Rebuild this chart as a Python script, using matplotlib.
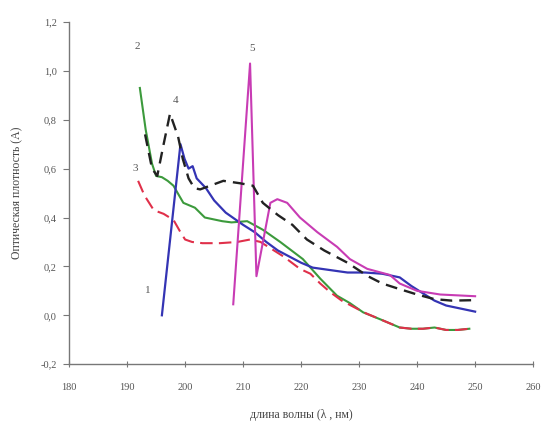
import matplotlib
matplotlib.use("Agg")
import matplotlib.pyplot as plt
from matplotlib.ticker import FuncFormatter

# Spectra: wavelength (nm) and optical density (A)
wl_1 = [196.0, 199.2, 199.9, 200.6, 201.3, 202.0, 202.8, 203.6, 205.0, 207.0, 210.0,
        212.0, 214.0, 216.0, 218.0, 220.0, 222.0, 225.0, 228.0, 231.0, 234.0, 237.0,
        239.0, 241.0, 243.0, 245.0, 247.0, 250.0]
od_1 = [0.00, 0.70, 0.64, 0.60, 0.61, 0.56, 0.54, 0.52, 0.47, 0.42, 0.37,
        0.34, 0.30, 0.265, 0.24, 0.215, 0.195, 0.185, 0.175, 0.175, 0.17, 0.155,
        0.12, 0.09, 0.06, 0.04, 0.03, 0.015]

wl_2 = [192.2, 193.2, 194.3, 195.0, 196.0, 197.0, 198.0, 198.6, 199.7, 201.7, 203.4,
        206.4, 208.0, 210.7, 213.4, 216.4, 220.3, 223.3, 226.2, 228.4, 230.7, 233.6,
        237.0, 239.0, 241.0, 243.0, 245.0, 247.0, 249.0]
od_2 = [0.93, 0.76, 0.62, 0.57, 0.565, 0.55, 0.53, 0.505, 0.46, 0.44, 0.40,
        0.385, 0.38, 0.385, 0.35, 0.30, 0.23, 0.15, 0.08, 0.05, 0.012, -0.016,
        -0.05, -0.055, -0.055, -0.05, -0.06, -0.06, -0.055]

wl_3 = [191.9, 193.0, 194.6, 196.3, 198.0, 199.2, 200.0, 201.2, 203.0, 206.0, 209.0,
        211.2, 213.0, 215.0, 217.0, 219.8, 221.6, 223.3, 225.0, 227.0, 229.0, 231.0,
        233.0, 235.0, 237.0, 239.0, 241.0, 243.0, 245.0, 247.0, 249.0]
od_3 = [0.55, 0.49, 0.43, 0.415, 0.39, 0.34, 0.31, 0.30, 0.295, 0.295, 0.30,
        0.31, 0.30, 0.27, 0.24, 0.19, 0.17, 0.13, 0.095, 0.06, 0.035, 0.01,
        -0.01, -0.03, -0.05, -0.055, -0.055, -0.05, -0.06, -0.06, -0.055]

wl_4 = [193.1, 194.3, 195.2, 196.3, 197.4, 198.8, 199.6, 200.6, 201.6, 202.6, 204.3,
        206.6, 209.5, 211.7, 213.4, 216.0, 218.5, 221.0, 224.0, 228.0, 231.5, 234.0,
        237.0, 240.0, 243.0, 246.0, 250.0]
od_4 = [0.74, 0.60, 0.57, 0.70, 0.825, 0.73, 0.64, 0.56, 0.52, 0.515, 0.53,
        0.55, 0.54, 0.53, 0.46, 0.41, 0.37, 0.31, 0.265, 0.215, 0.16, 0.13,
        0.107, 0.085, 0.066, 0.06, 0.062]

wl_5 = [208.3, 211.2, 212.3, 214.7, 215.9, 217.6, 219.8, 222.8, 226.2, 228.4, 231.4,
        235.3, 237.0, 240.0, 244.0, 250.0]
od_5 = [0.045, 1.03, 0.16, 0.46, 0.475, 0.46, 0.40, 0.34, 0.28, 0.23, 0.19,
        0.165, 0.13, 0.10, 0.085, 0.078]

curve_labels = ["1", "2", "3", "4", "5"]
label_x = [193.6, 191.7, 191.4, 198.3, 211.6]
label_y = [0.10, 1.10, 0.60, 0.88, 1.09]

x_ticks = [180, 190, 200, 210, 220, 230, 240, 250, 260]
y_ticks = [-0.2, 0.0, 0.2, 0.4, 0.6, 0.8, 1.0, 1.2]

plt.rcParams["font.family"] = ["Liberation Serif", "DejaVu Serif"]

fig = plt.figure(figsize=(5.44, 4.22), dpi=100)
ax = fig.add_axes([0.127, 0.137, 0.853, 0.811])

ax.plot(wl_2, od_2, color="#3c9a3c", lw=1.5, zorder=2)
ax.plot(wl_3, od_3, color="#e0304a", lw=1.5, dashes=(6, 3), zorder=3)
ax.plot(wl_1, od_1, color="#3434b4", lw=1.6, zorder=4)
ax.plot(wl_5, od_5, color="#c83cb4", lw=1.5, zorder=4)
ax.plot(wl_4, od_4, color="#222222", lw=1.7, dashes=(5, 3), zorder=5)

for t, xx, yy in zip(curve_labels, label_x, label_y):
    ax.text(xx, yy, t, fontsize=8, color="#555555", ha="center", va="center")

ax.set_xlim(180, 260)
ax.set_ylim(-0.2, 1.2)
ax.set_xticks(x_ticks)
ax.set_yticks(y_ticks)
ax.yaxis.set_major_formatter(FuncFormatter(lambda v, p: f"{v:.1f}".replace(".", ",").replace("-0,0", "0,0")))

for s in ["top", "right"]:
    ax.spines[s].set_visible(False)
for s in ["left", "bottom"]:
    ax.spines[s].set_color("#777777")
    ax.spines[s].set_linewidth(1.0)

ax.tick_params(axis="x", direction="inout", length=5, color="#777777", labelsize=7.5,
               labelcolor="#555555", pad=11)
ax.tick_params(axis="y", direction="out", length=4, color="#777777", labelsize=7.5,
               labelcolor="#555555", pad=5)

ax.set_xlabel("длина волны (λ , нм)", fontsize=8.5, color="#444444", labelpad=12)
ax.set_ylabel("Оптическая плотность (A)", fontsize=8.5, color="#444444", labelpad=12)

fig.savefig("out.png", dpi=100)
